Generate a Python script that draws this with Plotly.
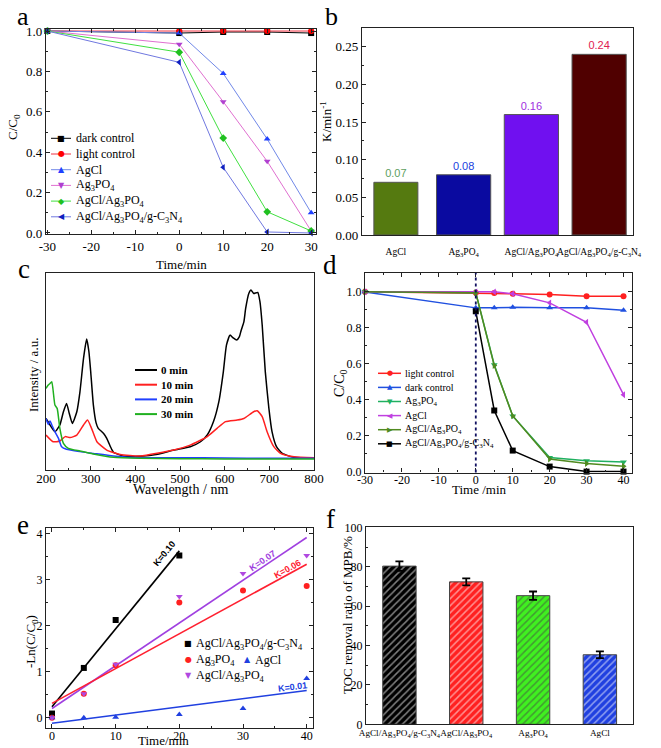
import plotly.graph_objects as go

W, H = 661, 748
SERIF = "Liberation Serif"
SANS = "Liberation Sans"
GLYPH = "DejaVu Sans"

# ---------------- Panel a : C/C0 vs time ----------------
A_TIME = [-30, 0, 10, 20, 30]
A_XTICKS = [-30, -20, -10, 0, 10, 20, 30]
A_XTICK_LABELS = ["-30", "-20", "-10", "0", "10", "20", "30"]
A_NAMES = ["dark control", "light control", "AgCl", "Ag<sub>3</sub>PO<sub>4</sub>",
           "AgCl/Ag<sub>3</sub>PO<sub>4</sub>", "AgCl/Ag<sub>3</sub>PO<sub>4</sub>/g-C<sub>3</sub>N<sub>4</sub>"]
A_DARK = [1.0, 0.99, 0.995, 0.995, 0.99]
A_LIGHT = [1.0, 1.0, 1.0, 1.0, 1.0]
A_AGCL = [1.0, 0.99, 0.79, 0.465, 0.10]
A_AG3PO4 = [1.0, 0.935, 0.65, 0.355, 0.01]
A_AGCL_AG3PO4 = [1.0, 0.895, 0.47, 0.105, 0.01]
A_TERNARY = [1.0, 0.845, 0.325, 0.005, 0.0]

# ---------------- Panel b : rate constants ----------------
B_CATS = ["AgCl", "Ag<sub>3</sub>PO<sub>4</sub>", "AgCl/Ag<sub>3</sub>PO<sub>4</sub>",
          "AgCl/Ag<sub>3</sub>PO<sub>4</sub>/g-C<sub>3</sub>N<sub>4</sub>"]
B_K = [0.07, 0.08, 0.16, 0.24]

# ---------------- Panel c : spectra ----------------
C_NAMES = ["0 min", "10 min", "20 min", "30 min"]
C_WL_0 = [200, 209, 220, 231, 239, 246, 252, 259, 269, 276, 284, 291, 296, 300, 306, 312, 317, 329, 336,
          347, 351, 374, 411, 450, 486, 523, 546, 561, 575, 587, 597, 604, 612, 619, 627, 633, 637, 643,
          647, 654, 659, 665, 674, 679, 684, 691, 699, 706, 716, 729, 755, 800]
C_INT_0 = [0.261, 0.228, 0.194, 0.228, 0.295, 0.337, 0.287, 0.236, 0.295, 0.396, 0.565, 0.663, 0.60, 0.50,
           0.33, 0.24, 0.211, 0.185, 0.160, 0.105, 0.090, 0.070, 0.070, 0.080, 0.101, 0.118, 0.143, 0.177,
           0.245, 0.346, 0.497, 0.632, 0.683, 0.669, 0.658, 0.675, 0.708, 0.750, 0.818, 0.894, 0.911,
           0.894, 0.899, 0.852, 0.734, 0.497, 0.312, 0.194, 0.118, 0.084, 0.064, 0.059]
C_WL_10 = [200, 216, 231, 243, 254, 269, 284, 293, 302, 314, 336, 366, 411, 486, 523, 561, 583, 602, 628,
           643, 665, 673, 684, 695, 710, 725, 755, 800]
C_INT_10 = [0.177, 0.143, 0.147, 0.169, 0.164, 0.177, 0.228, 0.253, 0.211, 0.143, 0.101, 0.079, 0.071,
            0.101, 0.126, 0.169, 0.211, 0.245, 0.253, 0.261, 0.295, 0.300, 0.270, 0.194, 0.118, 0.084,
            0.067, 0.062]
C_WL_20 = [200, 205, 209, 213, 220, 228, 235, 246, 276, 306, 351, 411, 500, 600, 700, 800]
C_INT_20 = [0.261, 0.231, 0.248, 0.228, 0.194, 0.160, 0.118, 0.105, 0.093, 0.084, 0.071, 0.062, 0.062,
            0.061, 0.059, 0.059]
C_WL_30 = [200, 205, 209, 213, 220, 225, 231, 239, 250, 276, 306, 351, 411, 500, 600, 700, 800]
C_INT_30 = [0.413, 0.430, 0.438, 0.447, 0.329, 0.312, 0.211, 0.135, 0.110, 0.096, 0.081, 0.064, 0.059,
            0.057, 0.056, 0.056, 0.056]

# ---------------- Panel d : C/C0 vs time ----------------
D_TIME = [-30, 0, 5, 10, 20, 30, 40]
D_XTICKS = [-30, -20, -10, 0, 10, 20, 30, 40]
D_XTICK_LABELS = ["-30", "-20", "-10", "0", "10", "20", "30", "40"]
D_NAMES = ["light control", "dark control", "Ag<sub>3</sub>PO<sub>4</sub>", "AgCl",
           "AgCl/Ag<sub>3</sub>PO<sub>4</sub>", "AgCl/Ag<sub>3</sub>PO<sub>4</sub>/g-C<sub>3</sub>N<sub>4</sub>"]
D_LIGHT = [1.0, 0.995, 0.994, 0.99, 0.985, 0.976, 0.976]
D_DARK = [1.0, 0.911, 0.911, 0.914, 0.911, 0.911, 0.898]
D_AG3PO4 = [1.0, 0.995, 0.595, 0.31, 0.078, 0.06, 0.054]
D_AGCL = [1.0, 1.0, 1.0, 0.99, 0.939, 0.831, 0.428]
D_AGCL_AG3PO4 = [1.0, 0.995, 0.59, 0.31, 0.07, 0.045, 0.03]
D_TERNARY_TIME = [0, 5, 10, 20, 30, 40]
D_TERNARY = [0.892, 0.34, 0.117, 0.028, 0.0, 0.0]
D_LIGHT_ON = 0

# ---------------- Panel e : kinetics ----------------
E_NAMES = ["AgCl/Ag<sub>3</sub>PO<sub>4</sub>/g-C<sub>3</sub>N<sub>4</sub>", "Ag<sub>3</sub>PO<sub>4</sub>",
           "AgCl", "AgCl/Ag<sub>3</sub>PO<sub>4</sub>"]
E_TIME = [0, 5, 10, 20, 30, 40]
E_TERNARY_TIME = [0, 5, 10, 20]
E_TERNARY = [0.09, 1.08, 2.12, 3.52]
E_AG3PO4 = [0.0, 0.52, 1.14, 2.50, 2.76, 2.86]
E_AGCL = [0.0, 0.0, 0.01, 0.07, 0.20, 0.85]
E_AGCL_AG3PO4 = [0.0, 0.52, 1.16, 2.63, 3.13, 3.52]
E_FIT_TERNARY_X = [0, 20]
E_FIT_TERNARY_Y = [0.24, 3.62]
E_FIT_X = [0, 40]
E_FIT_AG3PO4_Y = [0.31, 3.33]
E_FIT_AGCL_AG3PO4_Y = [0.20, 3.91]
E_FIT_AGCL_Y = [-0.12, 0.59]
E_K_LABELS = ["K=0.10", "K=0.07", "K=0.06", "K=0.01"]
E_K_POS_X = [17.6, 33.0, 37.0, 37.7]
E_K_POS_Y = [3.55, 3.40, 3.22, 0.66]

# ---------------- Panel f : TOC removal ----------------
F_CATS = ["AgCl/Ag<sub>3</sub>PO<sub>4</sub>/g-C<sub>3</sub>N<sub>4</sub>", "AgCl/Ag<sub>3</sub>PO<sub>4</sub>",
          "Ag<sub>3</sub>PO<sub>4</sub>", "AgCl"]
F_TOC = [80.3, 72.3, 65.3, 35.3]
F_ERR = [2.4, 1.8, 2.1, 1.7]


def px(x):
    return x / W


def py(y):
    return 1 - y / H


fig = go.Figure()

# ---- panel a traces
a_style = [
    (A_DARK, "black", "black", "square"),
    (A_LIGHT, "#f03040", "#ff0000", "circle"),
    (A_AGCL, "#7088e8", "#2040ff", "triangle-up"),
    (A_AG3PO4, "#e070d0", "#b040d0", "triangle-down"),
    (A_AGCL_AG3PO4, "#40e040", "#20c020", "diamond"),
    (A_TERNARY, "#7078e0", "#1020c0", "triangle-left"),
]
for name, (vals, lc, mc, sym) in zip(A_NAMES, a_style):
    fig.add_trace(go.Scatter(x=A_TIME, y=vals, name=name, mode="lines+markers", xaxis="x", yaxis="y",
                             line=dict(color=lc, width=1), marker=dict(color=mc, symbol=sym, size=6),
                             showlegend=False, cliponaxis=False))

# ---- panel b
fig.add_trace(go.Bar(x=B_CATS, y=B_K, xaxis="x2", yaxis="y2", width=[0.65, 0.8, 0.8, 0.8],
                     marker=dict(color=["#557a10", "#0a0aa0", "#7010f0", "#500000"],
                                 line=dict(color="#555555", width=1)),
                     text=[f"{v:.2f}" for v in B_K], textposition="outside",
                     textfont=dict(family=SANS, size=11, color=["#60a060", "#2040e0", "#a030e0", "#e02050"]),
                     showlegend=False, cliponaxis=False))

# ---- panel c
c_colors = ["black", "#ff2020", "#2040ff", "#20b020"]
for name, wl, it, col in zip(C_NAMES, [C_WL_0, C_WL_10, C_WL_20, C_WL_30],
                             [C_INT_0, C_INT_10, C_INT_20, C_INT_30], c_colors):
    fig.add_trace(go.Scatter(x=wl, y=it, name=name, mode="lines", xaxis="x3", yaxis="y3",
                             line=dict(color=col, width=1.5, shape="spline", smoothing=0.5),
                             showlegend=False))

# ---- panel d
d_style = [
    (D_TIME, D_LIGHT, "#ff2020", "circle"),
    (D_TIME, D_DARK, "#2050e0", "triangle-up"),
    (D_TIME, D_AG3PO4, "#20b060", "triangle-down"),
    (D_TIME, D_AGCL, "#c040e0", "triangle-left"),
    (D_TIME, D_AGCL_AG3PO4, "#508a20", "triangle-right"),
    (D_TERNARY_TIME, D_TERNARY, "black", "square"),
]
for name, (xs, ys, col, sym) in zip(D_NAMES, d_style):
    fig.add_trace(go.Scatter(x=xs, y=ys, name=name, mode="lines+markers", xaxis="x4", yaxis="y4",
                             line=dict(color=col, width=1.5), marker=dict(color=col, symbol=sym, size=6),
                             showlegend=False, cliponaxis=False))
fig.add_shape(type="line", xref="x4", yref="y4 domain", x0=D_LIGHT_ON, x1=D_LIGHT_ON, y0=0, y1=1,
              line=dict(color="#101060", width=1.8, dash="dot"))

# ---- panel e
e_colors = ["black", "#ff2020", "#2040e0", "#b048e0"]
e_syms = ["square", "circle", "triangle-up", "triangle-down"]
fits = [(E_FIT_TERNARY_X, E_FIT_TERNARY_Y, "black"), (E_FIT_X, E_FIT_AGCL_AG3PO4_Y, "#a040e0"),
        (E_FIT_X, E_FIT_AG3PO4_Y, "#ff2030"), (E_FIT_X, E_FIT_AGCL_Y, "#2040e0")]
for fx, fy, col in fits:
    fig.add_trace(go.Scatter(x=fx, y=fy, mode="lines", xaxis="x5", yaxis="y5",
                             line=dict(color=col, width=1.6), showlegend=False))
for name, xs, ys, col, sym in zip(E_NAMES, [E_TERNARY_TIME, E_TIME, E_TIME, E_TIME],
                                  [E_TERNARY, E_AG3PO4, E_AGCL, E_AGCL_AG3PO4], e_colors, e_syms):
    fig.add_trace(go.Scatter(x=xs, y=ys, name=name, mode="markers", xaxis="x5", yaxis="y5",
                             marker=dict(color=col, symbol=sym, size=6), showlegend=False,
                             cliponaxis=False))
k_colors = ["black", "#a040e0", "#ff2030", "#2040e0"]
k_angles = [-51, -34, -29, -7]
for lab, kx, ky, col, ang in zip(E_K_LABELS, E_K_POS_X, E_K_POS_Y, k_colors, k_angles):
    fig.add_annotation(x=kx, y=ky, xref="x5", yref="y5", text=f"<b>{lab}</b>", showarrow=False,
                       textangle=ang, font=dict(family=SANS, size=9, color=col))

# ---- panel f
f_colors = ["#000000", "#ff2020", "#40f020", "#2040e0"]
f_fg = ["#000000", "#a00000", "#209010", "#102080"]
fig.add_trace(go.Bar(x=F_CATS, y=F_TOC, xaxis="x6", yaxis="y6", width=0.5,
                     marker=dict(color=f_colors, line=dict(color="#444444", width=1),
                                 pattern=dict(shape="/", fgcolor=f_fg, bgcolor=f_colors, size=5,
                                              solidity=0.3)),
                     error_y=dict(type="data", array=F_ERR, color="black", thickness=1.8, width=4),
                     showlegend=False))


# ---------------- axes ----------------
def tfont(size):
    return dict(family=SERIF, size=size, color="black")


def axis(domain, rng, anchor, **kw):
    d = dict(domain=domain, range=rng, anchor=anchor, showline=True, mirror=True, linecolor="#222222",
             linewidth=1.3, ticks="inside", ticklen=4, tickcolor="#222222", showgrid=False,
             zeroline=False, tickfont=tfont(12), automargin=False)
    d.update(kw)
    return d


def minor(dt):
    return dict(ticks="inside", ticklen=2, tickcolor="#222222", dtick=dt)


layout = dict(
    width=W, height=H, margin=dict(l=0, r=0, t=0, b=0, pad=0, autoexpand=False),
    paper_bgcolor="white", plot_bgcolor="white",
    font=dict(family=SERIF, color="black"),
    xaxis=axis([px(46), px(316)], [-30.3, 31.1], "y", tickvals=A_XTICKS, ticktext=A_XTICK_LABELS,
               minor=minor(5), mirror="ticks", tickfont=tfont(13)),
    yaxis=axis([py(234), py(29)], [-0.005, 1.01], "x", dtick=0.2, tickformat=".1f", minor=minor(0.1),
               mirror="ticks", tickfont=tfont(13)),
    xaxis2=axis([px(362), px(633)], [-0.5, 3.5], "y2", ticks="", type="category", tickangle=0,
                tickfont=tfont(9.5), ticklabelstandoff=7),
    yaxis2=axis([py(235), py(28)], [0, 0.275], "x2", dtick=0.05, tickformat=".2f", minor=minor(0.025),
                tickfont=tfont(13)),
    xaxis3=axis([px(46), px(314)], [200, 800], "y3", dtick=100, minor=minor(50), tickfont=tfont(13),
                ticklabelstandoff=-4),
    yaxis3=axis([py(470), py(272.5)], [0, 1], "x3", ticks="", showticklabels=False),
    xaxis4=axis([px(365), px(632)], [-30, 42.3], "y4", tickvals=D_XTICKS, ticktext=D_XTICK_LABELS,
                minor=minor(5), mirror="ticks", ticklabelstandoff=-4),
    yaxis4=axis([py(472.5), py(273)], [-0.005, 1.105], "x4", dtick=0.2, tickformat=".1f",
                minor=minor(0.1), mirror="ticks"),
    xaxis5=axis([px(46), px(313.3)], [-0.94, 41.04], "y5", dtick=10, minor=minor(5), mirror="ticks",
                ticklabelstandoff=-4),
    yaxis5=axis([py(728.3), py(528.3)], [-0.23, 4.11], "x5", dtick=1, minor=minor(0.5), mirror="ticks"),
    xaxis6=axis([px(366), px(633.3)], [-0.5, 3.5], "y6", ticks="", type="category", tickangle=0,
                tickfont=tfont(9.2)),
    yaxis6=axis([py(724.3), py(527.3)], [0, 100], "x6", dtick=20, minor=minor(10)),
)
fig.update_layout(**layout)

# ---------------- axis titles ----------------
AXIS_TITLES = [
    ("Time/min", 181, 264, 0, 13),
    ("C/C<sub>0</sub>", 13, 127, -90, 13),
    ("K/min<sup>-1</sup>", 326, 122, -90, 13),
    ("Wavelength / nm", 180, 490, 0, 14),
    ("Intensity / a.u.", 33, 375, -90, 13),
    ("Time /min", 479, 490, 0, 13),
    ("C/C<sub>0</sub>", 340, 383, -90, 14),
    ("Time/min", 163, 740.5, 0, 13),
    ("-Ln(C/C<sub>0</sub>)", 31, 642, -90, 13),
    ("TOC removal ratio of MPB/%", 347, 615, -90, 13),
]
for t, tx, ty, ang, sz in AXIS_TITLES:
    fig.add_annotation(x=px(tx), y=py(ty), xref="paper", yref="paper", text=t, showarrow=False,
                       textangle=ang, xanchor="center", yanchor="middle", font=tfont(sz))

# ---------------- panel letters ----------------
for letter, lx, ly, anchor in [("a", 23, 0, "top"), ("b", 331, 0, "top"), ("c", 24, 269, "middle"),
                               ("d", 330, 265, "middle"), ("e", 23, 525, "middle"),
                               ("f", 330, 519, "middle")]:
    fig.add_annotation(x=px(lx), y=py(ly), xref="paper", yref="paper", text=letter, showarrow=False,
                       xanchor="center", yanchor=anchor, font=tfont(26 if anchor == "top" else 27))

# ---------------- manual legends ----------------
GLYPHS = {"square": "\u25A0", "circle": "\u25CF", "triangle-up": "\u25B2", "triangle-down": "\u25BC",
          "triangle-left": "\u25C0", "triangle-right": "\u25B6", "diamond": "\u25C6"}


def add_legend(names, line_cols, mark_cols, syms, xl0, xl1, xt, y0, dy, size, bold=False,
               lw=1.0, gsize=8):
    for i, name in enumerate(names):
        y = y0 + i * dy
        if line_cols[i]:
            fig.add_shape(type="line", xref="paper", yref="paper", x0=px(xl0), x1=px(xl1), y0=py(y),
                          y1=py(y), line=dict(color=line_cols[i], width=lw))
        if syms[i]:
            fig.add_annotation(x=px((xl0 + xl1) / 2), y=py(y), xref="paper", yref="paper",
                               text=GLYPHS[syms[i]], showarrow=False, xanchor="center", yanchor="middle",
                               font=dict(family=GLYPH, size=gsize, color=mark_cols[i]))
        txt = f"<b>{name}</b>" if bold else name
        fig.add_annotation(x=px(xt), y=py(y), xref="paper", yref="paper", text=txt, showarrow=False,
                           xanchor="left", yanchor="middle", font=tfont(size))


add_legend(A_NAMES, [s[1] for s in a_style], [s[2] for s in a_style], [s[3] for s in a_style],
           51, 71, 74, 138.3, 15.7, 12, lw=1, gsize=8)
add_legend(C_NAMES, c_colors, c_colors, [None] * 4, 135, 157, 159, 370, 14.7, 11, bold=True, lw=2)
add_legend(D_NAMES, [s[2] for s in d_style], [s[2] for s in d_style], [s[3] for s in d_style],
           378, 401, 403, 373.3, 14.1, 10, lw=1.5, gsize=7)
# panel e legend (two columns)
add_legend([E_NAMES[0], E_NAMES[1], E_NAMES[3]], [None] * 3, [e_colors[0], e_colors[1], e_colors[3]],
           [e_syms[0], e_syms[1], e_syms[3]], 184, 192, 194, 643.5, 16.2, 12, gsize=8)
add_legend([E_NAMES[2]], [None], [e_colors[2]], [e_syms[2]], 243, 251, 253, 659.7, 16, 12, gsize=8)

fig.write_html("out.html", config={"displayModeBar": False},
               post_script="document.body.style.margin='0';")
